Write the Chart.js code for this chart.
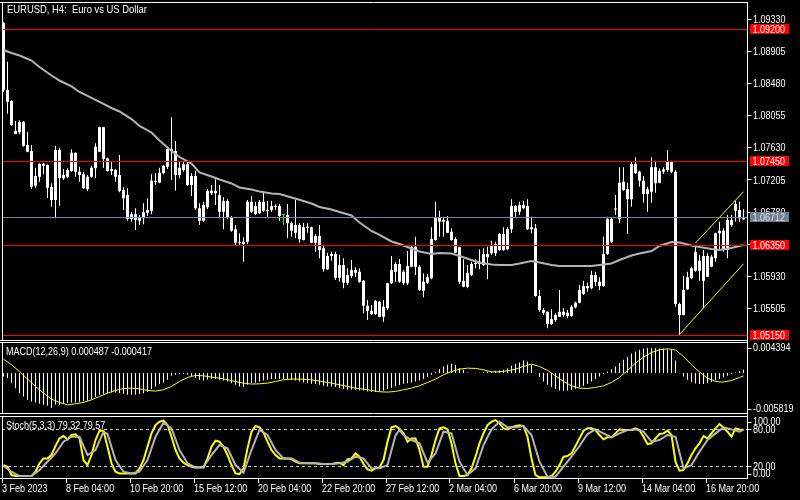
<!DOCTYPE html>
<html><head><meta charset="utf-8">
<script src="https://cdn.jsdelivr.net/npm/chart.js@4.4.0/dist/chart.umd.min.js"></script>
<style>html,body{margin:0;padding:0;background:#000;}canvas{display:block}</style>
</head><body>
<canvas id="c" width="800" height="500" style="width:800px;height:500px"></canvas>
<script>
// ---------- data ----------
const title = "EURUSD, H4:  Euro vs US Dollar";
const macdTitle = "MACD(12,26,9) 0.000487 -0.000417";
const stochTitle = "Stoch(5,3,3) 79.32 79.57";
const xTickIdx = [0,16,32,48,64,80,96,112,128,144,160,176];
const xTickText = ["3 Feb 2023","8 Feb 04:00","10 Feb 20:00","15 Feb 12:00","20 Feb 04:00","22 Feb 20:00","27 Feb 12:00","2 Mar 04:00","6 Mar 20:00","9 Mar 12:00","14 Mar 04:00","16 Mar 20:00"];
const priceTicks = [1.09330,1.08905,1.08480,1.08055,1.07630,1.07205,1.06780,1.06355,1.05930,1.05505];
const redLevels = [1.09200,1.07450,1.06350,1.05150];
const lastPrice = 1.06712;
const macdAxisLabels = [0.004394,-0.005819];
const stochAxisLabels = [100,80,20,0];
const stochLevels = [80,20];
const greenBar = 70;

const open = [1.09283,1.08396,1.08251,1.07814,1.07836,1.07977,1.07668,1.07589,1.07129,1.07249,
1.07417,1.07403,1.07112,1.06940,1.07602,1.07227,1.07249,1.07324,1.07566,1.07315,
1.07280,1.07086,1.07249,1.07360,1.07580,1.07903,1.07492,1.07324,1.07337,1.07271,
1.07072,1.07006,1.06688,1.06751,1.06666,1.06698,1.06772,1.06794,1.07196,1.07169,
1.07293,1.07381,1.07615,1.07589,1.07271,1.07337,1.07413,1.07139,1.07258,1.06830,
1.06666,1.06843,1.07063,1.07029,1.07006,1.06785,1.06927,1.06711,1.06552,1.06375,
1.06388,1.06388,1.06918,1.06755,1.06764,1.06918,1.06798,1.06808,1.06847,1.06861,
1.06741,1.06741,1.06632,1.06507,1.06609,1.06410,1.06579,1.06579,1.06375,1.06463,
1.06300,1.06022,1.06199,1.06225,1.05911,1.06079,1.05845,1.05934,1.06013,1.05991,
1.05872,1.05541,1.05474,1.05431,1.05594,1.05395,1.05506,1.05837,1.05991,1.06093,
1.05837,1.05837,1.06057,1.06322,1.06057,1.05739,1.05845,1.05903,1.06410,1.06711,
1.06653,1.06666,1.06520,1.06424,1.06314,1.05872,1.05792,1.05947,1.06093,1.06093,
1.06079,1.06225,1.06234,1.06234,1.06278,1.06490,1.06287,1.06552,1.06861,1.06785,
1.06874,1.06861,1.06552,1.06565,1.05669,1.05484,1.05461,1.05298,1.05351,1.05395,
1.05461,1.05404,1.05404,1.05519,1.05580,1.05696,1.05801,1.05771,1.05947,1.05858,
1.05801,1.06225,1.06688,1.06814,1.06684,1.07182,1.07082,1.06949,1.07417,1.07315,
1.07196,1.07019,1.07050,1.07373,1.07169,1.07315,1.07337,1.07447,1.07315,1.05563,
1.05418,1.05758,1.05903,1.06004,1.06136,1.05872,1.06199,1.06057,1.06168,1.06499,
1.06534,1.06278,1.06675,1.06798,1.06808,1.06684];
const high = [1.09301,1.08771,1.08260,1.07986,1.07995,1.07986,1.07844,1.07668,1.07368,1.07426,
1.07434,1.07410,1.07161,1.07659,1.07633,1.07350,1.07360,1.07611,1.07570,1.07381,
1.07315,1.07271,1.07394,1.07691,1.07910,1.07910,1.07500,1.07447,1.07350,1.07536,
1.07108,1.07095,1.06785,1.06830,1.06741,1.06896,1.06963,1.07280,1.07293,1.07368,
1.07403,1.07646,1.08035,1.07721,1.07447,1.07447,1.07447,1.07293,1.07328,1.06896,
1.06917,1.07086,1.07139,1.07214,1.07139,1.06976,1.06949,1.06728,1.06609,1.06499,
1.06446,1.06940,1.06993,1.06918,1.06940,1.07050,1.06927,1.06931,1.06887,1.06887,
1.06755,1.06887,1.06653,1.06940,1.06632,1.06640,1.06632,1.06587,1.06490,1.06609,
1.06344,1.06242,1.06255,1.06255,1.06212,1.06168,1.06036,1.06146,1.06049,1.06036,
1.05881,1.05616,1.05550,1.05616,1.05607,1.05616,1.05845,1.06199,1.06123,1.06159,
1.06013,1.06265,1.06331,1.06454,1.06079,1.05969,1.05960,1.06579,1.06918,1.06798,
1.06719,1.06728,1.06565,1.06446,1.06320,1.06155,1.06079,1.06123,1.06155,1.06287,
1.06300,1.06322,1.06401,1.06388,1.06499,1.06579,1.06579,1.06949,1.06874,1.06918,
1.06931,1.06949,1.06719,1.06622,1.05748,1.05506,1.05465,1.05493,1.05440,1.05748,
1.05506,1.05484,1.05550,1.05594,1.05815,1.05872,1.05845,1.06004,1.05991,1.05917,
1.06454,1.06719,1.06711,1.07006,1.07373,1.07373,1.07169,1.07447,1.07505,1.07328,
1.07258,1.07116,1.07505,1.07460,1.07360,1.07373,1.07602,1.07460,1.07337,1.05580,
1.05934,1.05991,1.06057,1.06344,1.06212,1.06278,1.06234,1.06212,1.06507,1.06653,
1.06565,1.06741,1.06741,1.06931,1.06918,1.06817];
const low = [1.08370,1.08083,1.07924,1.07810,1.07810,1.07646,1.07572,1.07086,1.07103,1.07182,
1.07280,1.06967,1.06851,1.06698,1.06865,1.07205,1.07227,1.07315,1.07249,1.07182,
1.07086,1.07059,1.07235,1.07227,1.07575,1.07368,1.07315,1.07271,1.07182,1.07042,
1.06808,1.06666,1.06653,1.06543,1.06609,1.06618,1.06728,1.06751,1.07139,1.07161,
1.07280,1.07350,1.07205,1.07063,1.07227,1.07315,1.07125,1.06993,1.06808,1.06609,
1.06653,1.06821,1.07006,1.06874,1.06698,1.06552,1.06685,1.06520,1.06331,1.06331,
1.06123,1.06358,1.06772,1.06741,1.06755,1.06785,1.06711,1.06785,1.06808,1.06666,
1.06609,1.06433,1.06454,1.06433,1.06375,1.06405,1.06507,1.06367,1.06255,1.06168,
1.05991,1.06013,1.06136,1.05881,1.05858,1.05771,1.05815,1.05903,1.05917,1.05845,
1.05440,1.05351,1.05418,1.05418,1.05387,1.05329,1.05484,1.05828,1.05858,1.05845,
1.05815,1.05815,1.06049,1.05947,1.05739,1.05652,1.05828,1.05890,1.06401,1.06454,
1.06454,1.06499,1.06401,1.06234,1.05828,1.05784,1.05771,1.05934,1.06036,1.06022,
1.06066,1.05890,1.06212,1.06199,1.06269,1.06269,1.06278,1.06499,1.06719,1.06741,
1.06817,1.06543,1.06499,1.05660,1.05461,1.05418,1.05241,1.05285,1.05329,1.05390,
1.05395,1.05374,1.05395,1.05506,1.05572,1.05682,1.05726,1.05757,1.05801,1.05748,
1.05792,1.06212,1.06375,1.06741,1.06632,1.07063,1.06490,1.06851,1.07284,1.07116,
1.06904,1.06785,1.06904,1.07037,1.07161,1.07284,1.07315,1.07293,1.05527,1.05153,
1.05413,1.05748,1.05890,1.05991,1.05872,1.05506,1.05917,1.06049,1.06123,1.06278,
1.06255,1.06168,1.06587,1.06653,1.06653,1.06675];
const close = [1.08396,1.08242,1.07933,1.07858,1.07977,1.07659,1.07580,1.07116,1.07258,1.07417,
1.07394,1.07103,1.06940,1.07602,1.07227,1.07271,1.07337,1.07566,1.07315,1.07271,
1.07095,1.07249,1.07368,1.07646,1.07903,1.07483,1.07324,1.07350,1.07249,1.07059,
1.06963,1.06688,1.06751,1.06675,1.06711,1.06777,1.06808,1.07196,1.07182,1.07301,
1.07394,1.07615,1.07589,1.07271,1.07368,1.07413,1.07139,1.07258,1.06830,1.06666,
1.06874,1.07063,1.07029,1.07063,1.06785,1.06927,1.06711,1.06534,1.06375,1.06388,
1.06358,1.06918,1.06785,1.06861,1.06918,1.06798,1.06808,1.06861,1.06854,1.06728,
1.06745,1.06632,1.06534,1.06609,1.06420,1.06579,1.06573,1.06375,1.06463,1.06278,
1.06022,1.06199,1.06225,1.05911,1.06079,1.05845,1.05947,1.06013,1.05977,1.05858,
1.05541,1.05474,1.05431,1.05603,1.05395,1.05527,1.05837,1.06013,1.06093,1.05858,
1.05991,1.06066,1.06322,1.06057,1.05748,1.05858,1.05917,1.06424,1.06711,1.06653,
1.06675,1.06507,1.06410,1.06242,1.05858,1.05792,1.05977,1.06093,1.06102,1.06123,
1.06225,1.06181,1.06331,1.06358,1.06490,1.06278,1.06552,1.06861,1.06785,1.06874,
1.06830,1.06552,1.06579,1.05669,1.05484,1.05448,1.05298,1.05360,1.05418,1.05461,
1.05418,1.05448,1.05527,1.05580,1.05748,1.05801,1.05771,1.05947,1.05858,1.05801,
1.06225,1.06688,1.06388,1.06821,1.07169,1.07072,1.06949,1.07417,1.07293,1.07196,
1.07019,1.07082,1.07373,1.07161,1.07328,1.07346,1.07447,1.07315,1.05563,1.05418,
1.05748,1.05917,1.06036,1.06255,1.06004,1.06199,1.05925,1.06190,1.06499,1.06534,
1.06278,1.06675,1.06609,1.06887,1.06698,1.06712];

const maIdx = [0,2,4,7,9,12,14,17,19,22,24,27,29,32,34,37,39,42,44,47,49,52,54,57,59,62,64,67,69,72,74,77,79,82,84,87,89,92,94,97,99,102,104,107,109,112,114,117,119,122,124,127,129,132,134,137,139,142,144,147,149,152,154,157,159,162,164,167,169,172,174,177,179,182,185];
const maVal = [1.08926,1.08886,1.08853,1.08787,1.08701,1.08588,1.08522,1.08445,1.08370,1.08291,1.08238,1.08158,1.08112,1.08012,1.07920,1.07834,1.07728,1.07589,1.07509,1.07423,1.07304,1.07251,1.07211,1.07159,1.07106,1.07079,1.07053,1.07026,1.07020,1.06973,1.06944,1.06894,1.06847,1.06814,1.06781,1.06735,1.06642,1.06530,1.06477,1.06391,1.06358,1.06298,1.06258,1.06225,1.06238,1.06232,1.06199,1.06146,1.06113,1.06086,1.06080,1.06080,1.06099,1.06132,1.06113,1.06080,1.06066,1.06066,1.06066,1.06066,1.06080,1.06099,1.06146,1.06205,1.06232,1.06265,1.06331,1.06384,1.06377,1.06338,1.06318,1.06291,1.06278,1.06304,1.06344];

const chanUpIdx = [173,185], chanUpVal = [1.06371,1.07050];
const chanDnIdx = [169,185], chanDnVal = [1.05160,1.06095];

const macdHist = [-0.00049,-0.00073,-0.00146,-0.00219,-0.00292,-0.00340,-0.00389,-0.00413,-0.00428,-0.00447,
-0.00462,-0.00476,-0.00510,-0.00462,-0.00462,-0.00447,-0.00437,-0.00428,-0.00428,-0.00418,
-0.00413,-0.00403,-0.00379,-0.00350,-0.00316,-0.00301,-0.00292,-0.00282,-0.00282,-0.00292,
-0.00301,-0.00316,-0.00316,-0.00316,-0.00306,-0.00292,-0.00272,-0.00233,-0.00194,-0.00160,
-0.00136,-0.00097,-0.00039,-0.00024,-0.00015,-0.00010,-0.00024,-0.00049,-0.00073,-0.00097,
-0.00107,-0.00097,-0.00087,-0.00087,-0.00097,-0.00107,-0.00122,-0.00146,-0.00170,-0.00194,
-0.00204,-0.00170,-0.00146,-0.00136,-0.00122,-0.00107,-0.00097,-0.00087,-0.00087,-0.00087,
-0.00087,-0.00087,-0.00097,-0.00107,-0.00122,-0.00136,-0.00146,-0.00156,-0.00160,-0.00170,
-0.00185,-0.00194,-0.00194,-0.00204,-0.00219,-0.00233,-0.00243,-0.00243,-0.00243,-0.00253,
-0.00253,-0.00267,-0.00277,-0.00277,-0.00267,-0.00253,-0.00233,-0.00214,-0.00194,-0.00175,
-0.00156,-0.00146,-0.00136,-0.00122,-0.00107,-0.00087,-0.00058,-0.00024,0.00019,0.00058,
0.00097,0.00122,0.00136,0.00122,0.00073,0.00049,0.00010,0.00002,-0.00002,0.00005,
0.00010,0.00019,0.00024,0.00034,0.00039,0.00049,0.00068,0.00107,0.00136,0.00156,
0.00185,0.00170,0.00122,-0.00002,-0.00058,-0.00122,-0.00170,-0.00204,-0.00233,-0.00253,
-0.00258,-0.00253,-0.00243,-0.00228,-0.00209,-0.00185,-0.00156,-0.00122,-0.00087,-0.00049,
-0.00015,0.00024,0.00058,0.00097,0.00146,0.00194,0.00233,0.00282,0.00316,0.00340,
0.00360,0.00365,0.00365,0.00365,0.00360,0.00360,0.00350,0.00350,0.00185,-0.00002,
-0.00049,-0.00097,-0.00131,-0.00151,-0.00160,-0.00160,-0.00146,-0.00126,-0.00107,-0.00087,
-0.00063,-0.00039,-0.00015,0.00010,0.00029,0.000487];

const sigIdx = [0,2,4,6,8,10,12,14,16,18,20,22,24,26,28,30,32,34,36,38,40,42,44,46,48,50,52,54,56,58,60,62,64,66,68,70,72,74,76,78,80,82,84,86,88,90,92,94,96,98,100,102,104,106,108,110,112,114,116,118,120,122,124,126,128,130,132,134,136,138,140,142,144,146,148,150,152,154,156,158,160,162,164,166,168,170,172,174,176,178,180,182,184,185];
const sigVal = [0.00204,0.00122,0.00024,-0.00087,-0.00194,-0.00292,-0.00379,-0.00428,-0.00462,-0.00447,-0.00428,-0.00389,-0.00340,-0.00292,-0.00253,-0.00224,-0.00219,-0.00228,-0.00253,-0.00262,-0.00243,-0.00194,-0.00122,-0.00063,-0.00034,-0.00039,-0.00058,-0.00073,-0.00097,-0.00122,-0.00146,-0.00160,-0.00156,-0.00146,-0.00122,-0.00097,-0.00087,-0.00087,-0.00092,-0.00107,-0.00126,-0.00146,-0.00170,-0.00194,-0.00219,-0.00233,-0.00253,-0.00272,-0.00277,-0.00267,-0.00243,-0.00219,-0.00185,-0.00136,-0.00087,-0.00024,0.00024,0.00058,0.00073,0.00068,0.00049,0.00019,0.00019,0.00034,0.00058,0.00097,0.00131,0.00097,0.00039,-0.00039,-0.00122,-0.00185,-0.00219,-0.00224,-0.00209,-0.00185,-0.00136,-0.00063,0.00039,0.00146,0.00233,0.00301,0.00340,0.00355,0.00340,0.00243,0.00122,0.00015,-0.00073,-0.00122,-0.00131,-0.00107,-0.00063,-0.000417];

const stochK = [21.6,18.9,5.3,3.6,3.6,3.6,3.6,3.6,10.7,24.4,
32.5,32.5,38.0,52.7,65.2,69.0,63.6,70.7,71.8,65.2,
29.8,21.6,38.0,62.5,77.8,77.8,51.6,24.4,10.7,8.0,
8.0,8.0,8.0,8.0,16.2,29.8,51.6,73.4,87.0,92.5,
94.1,87.0,67.9,46.2,32.5,25.4,21.6,18.9,17.8,17.8,
17.8,32.5,51.6,61.4,59.8,51.6,38.0,21.6,8.0,6.9,
16.2,48.9,76.1,85.4,83.2,74.5,59.8,46.2,38.0,32.5,
32.5,32.5,31.4,27.1,24.4,24.4,24.4,24.4,24.4,23.3,
23.3,23.3,23.3,24.4,25.4,21.6,30.9,32.5,40.7,35.3,
23.3,14.5,12.4,16.2,17.8,29.8,59.8,83.2,85.4,81.0,
73.4,59.8,65.2,65.2,46.2,18.9,18.9,38.0,62.5,81.6,
83.2,79.9,57.1,24.4,3.6,3.6,5.3,16.2,35.3,57.1,
73.4,87.0,92.5,95.2,89.8,81.6,79.9,83.2,85.4,86.5,
85.4,67.9,32.5,5.3,1.5,1.5,1.5,3.6,10.7,21.6,
35.3,36.3,40.7,52.7,65.2,77.8,81.6,81.6,78.9,70.7,
63.6,66.9,66.9,73.4,79.9,78.9,78.9,78.9,81.6,78.9,
67.9,55.9,57.1,65.2,72.3,73.4,77.8,70.7,27.1,12.4,
13.5,24.4,38.0,48.9,57.1,69.0,65.2,73.4,81.6,88.7,
83.2,76.1,67.9,81.6,79.9,79.32];

const stochDIdx = [0,2,4,7,9,11,13,15,17,19,21,23,25,26,28,30,32,34,36,38,40,42,44,46,48,50,52,54,56,58,60,62,64,66,68,70,72,74,76,78,80,82,84,86,88,90,92,94,96,98,99,100,102,104,106,108,110,112,114,116,118,120,122,124,126,128,130,132,134,136,138,140,142,144,146,148,150,152,154,156,158,160,162,164,166,168,170,172,174,176,178,180,182,184,185];
const stochDVal = [20.0,10.7,3.6,3.6,13.5,27.1,40.7,59.8,67.9,67.9,38.0,46.2,76.1,72.3,29.8,10.7,8.0,10.7,29.8,67.9,90.8,81.6,46.2,24.4,17.8,18.9,38.0,54.3,48.9,21.6,9.1,46.2,78.9,70.7,46.2,32.5,32.5,25.4,24.4,24.4,23.3,23.3,24.4,27.1,35.3,32.5,16.2,16.2,21.6,70.0,78.9,70.7,62.5,57.1,25.4,40.7,76.1,73.4,27.1,5.3,16.2,54.3,79.9,92.5,83.2,83.2,85.4,70.7,27.1,2.5,2.5,18.9,35.3,52.7,72.3,79.9,73.4,66.9,73.4,78.9,79.9,76.1,59.8,62.5,70.7,67.9,16.2,21.6,43.5,62.5,73.4,83.2,79.9,76.1,79.57];

// ---------- chart ----------
const FONT = '"Liberation Sans", Arial, sans-serif';
const barIdx = open.map((_, i) => i);
const pts = (idx, val) => idx.map((i, k) => ({x: i, y: val[k]})).filter(p => p.y !== undefined);
const noPad = s => { s.paddingTop = 0; s.paddingBottom = 0; s.paddingLeft = 0; s.paddingRight = 0; };

// MT4 uses a narrow UI face: draw real text, horizontally condensed
function txt(c, s, x, y, size, color) {
  c.save(); c.translate(x, y); c.scale(0.82, 1);
  c.font = size + 'px ' + FONT; c.fillStyle = color; c.textAlign = 'left'; c.textBaseline = 'middle';
  c.fillText(s, 0, 0); c.restore();
}

const mt4 = {
  id: 'mt4',
  beforeDraw(chart) {
    const c = chart.ctx; c.save(); c.fillStyle = '#000'; c.fillRect(0, 0, chart.width, chart.height); c.restore();
  },
  afterDraw(chart) {
    const c = chart.ctx, ys = chart.scales.y, ym = chart.scales.yM, yst = chart.scales.yS, xs = chart.scales.x;
    const R = xs.right;
    c.save();
    c.lineWidth = 1;
    const hl = (y, x0, x1, col) => { c.strokeStyle = col; c.beginPath(); c.moveTo(x0, Math.round(y) + 0.5); c.lineTo(x1, Math.round(y) + 0.5); c.stroke(); };
    const vl = (x, y0, y1, col) => { c.strokeStyle = col; c.beginPath(); c.moveTo(x, y0); c.lineTo(x, y1); c.stroke(); };
    // level lines
    redLevels.forEach(v => hl(ys.getPixelForValue(v), 2, R, '#ff0000'));
    hl(ys.getPixelForValue(lastPrice), 2, R, '#778899');
    c.setLineDash([3, 3]);
    stochLevels.forEach(v => hl(yst.getPixelForValue(v), 2, R, '#c8c8c8'));
    c.setLineDash([]);
    // panel frames
    [2, 340, 342, 413, 416, 478].forEach(y => hl(y, 0, R, '#ffffff'));
    vl(2.5, 2, 340.5, '#ffffff'); vl(2.5, 342, 413.5, '#ffffff'); vl(2.5, 416, 478.5, '#ffffff');
    // main price axis labels
    priceTicks.forEach(v => txt(c, v.toFixed(5), 753, ys.getPixelForValue(v) + 0.5, 11, '#ffffff'));
    // level boxes
    redLevels.forEach(v => {
      const y = Math.round(ys.getPixelForValue(v));
      c.fillStyle = '#ff0000'; c.fillRect(750, y - 5, 39, 10);
      txt(c, v.toFixed(5), 752.5, y + 0.5, 11, '#ffffff');
    });
    { const y = Math.round(ys.getPixelForValue(lastPrice));
      c.fillStyle = '#708090'; c.fillRect(750, y - 5, 39, 10);
      txt(c, lastPrice.toFixed(5), 752.5, y + 0.5, 11, '#e0e0e0'); }
    // sub-window axis labels
    const sub = (scale, vals, top, bot, dec) => vals.forEach(v => {
      let y = scale.getPixelForValue(v);
      y = Math.min(Math.max(y, top + 5), bot - 5);
      hl(y, 747.5, 751.5, '#ffffff');
      txt(c, v.toFixed(dec), 753, y + 0.5, 11, '#ffffff');
    });
    sub(ym, macdAxisLabels, 342.5, 413.5, 6);
    sub(yst, stochAxisLabels, 416.5, 478.5, 2);
    // time axis
    xTickIdx.forEach((i, k) => {
      const px = Math.round(xs.getPixelForValue(i));
      vl(px - 1.5, 479, 483, '#ffffff');
      txt(c, xTickText[k], px - 2, 488.5, 11, '#ffffff');
    });
    // titles
    txt(c, title, 7, 9.5, 11.5, '#ffffff');
    txt(c, macdTitle, 6, 352, 11, '#ffffff');
    txt(c, stochTitle, 6, 426, 11, '#ffffff');
    c.restore();
  }
};

new Chart(document.getElementById('c'), {
  type: 'bar',
  data: {
    labels: barIdx,
    datasets: [
      {type: 'line', data: pts(chanUpIdx, chanUpVal), yAxisID: 'y', borderColor: '#ffff00', borderWidth: 1, pointRadius: 0, order: 0},
      {type: 'line', data: pts(chanDnIdx, chanDnVal), yAxisID: 'y', borderColor: '#ffff00', borderWidth: 1, pointRadius: 0, order: 0},
      {type: 'line', data: pts(maIdx, maVal), yAxisID: 'y', borderColor: '#b4b4b4', borderWidth: 2, pointRadius: 0, order: 1},
      {type: 'bar', data: open.map((o, i) => [o, close[i]]), yAxisID: 'y', grouped: false, barThickness: 3, minBarLength: 1, inflateAmount: 0,
        backgroundColor: ctx => ctx.dataIndex === greenBar ? '#00ff00' : '#ffffff', order: 3},
      {type: 'bar', data: low.map((l, i) => [l, high[i]]), yAxisID: 'y', grouped: false, barThickness: 1, inflateAmount: 0,
        backgroundColor: ctx => ctx.dataIndex === greenBar ? '#00ff00' : '#ffffff', order: 4},
      {type: 'line', data: pts(sigIdx, sigVal), yAxisID: 'yM', borderColor: '#ffff00', borderWidth: 1, pointRadius: 0, order: 5},
      {type: 'bar', data: macdHist, yAxisID: 'yM', grouped: false, barThickness: 1, inflateAmount: 0, backgroundColor: '#ffffff', order: 6},
      {type: 'line', data: pts(stochDIdx, stochDVal), yAxisID: 'yS', borderColor: '#b4b4b4', borderWidth: 2, pointRadius: 0, order: 7},
      {type: 'line', data: stochK, yAxisID: 'yS', borderColor: '#ffff00', borderWidth: 2, pointRadius: 0, order: 8}
    ]
  },
  options: {
    responsive: false, animation: false, devicePixelRatio: 1, events: [],
    layout: {padding: {top: 2, left: 1.5, right: 0, bottom: 0}},
    plugins: {legend: {display: false}, tooltip: {enabled: false}},
    scales: {
      x: {type: 'linear', min: -0.5, max: 186, offset: false,
        grid: {display: false, drawTicks: false}, border: {display: false},
        afterBuildTicks: s => { s.ticks = xTickIdx.map(v => ({value: v})); },
        afterFit: s => { s.height = 21.7; noPad(s); },
        ticks: {display: false}},
      y: {type: 'linear', position: 'right', stack: 'mt4', stackWeight: 339.2, min: 1.050705, max: 1.095615,
        grid: {display: true, drawOnChartArea: false, drawTicks: true, tickLength: 4, color: '#ffffff'},
        border: {display: true, color: '#ffffff', width: 1},
        afterBuildTicks: s => { s.ticks = priceTicks.map(v => ({value: v})); },
        afterFit: s => { s.width = 52.5; noPad(s); },
        ticks: {display: false}},
      yM: {type: 'linear', position: 'right', stack: 'mt4', stackWeight: 73.4, min: -0.006052, max: 0.004657,
        grid: {display: false, drawTicks: false}, border: {display: true, color: '#ffffff', width: 1},
        afterFit: s => { s.width = 52.5; noPad(s); }, ticks: {display: false}},
      yS: {type: 'linear', position: 'right', stack: 'mt4', stackWeight: 63.7, min: -0.05, max: 104.08,
        grid: {display: false, drawTicks: false}, border: {display: true, color: '#ffffff', width: 1},
        afterFit: s => { s.width = 52.5; noPad(s); }, ticks: {display: false}}
    }
  },
  plugins: [mt4]
});
</script>
</body></html>
